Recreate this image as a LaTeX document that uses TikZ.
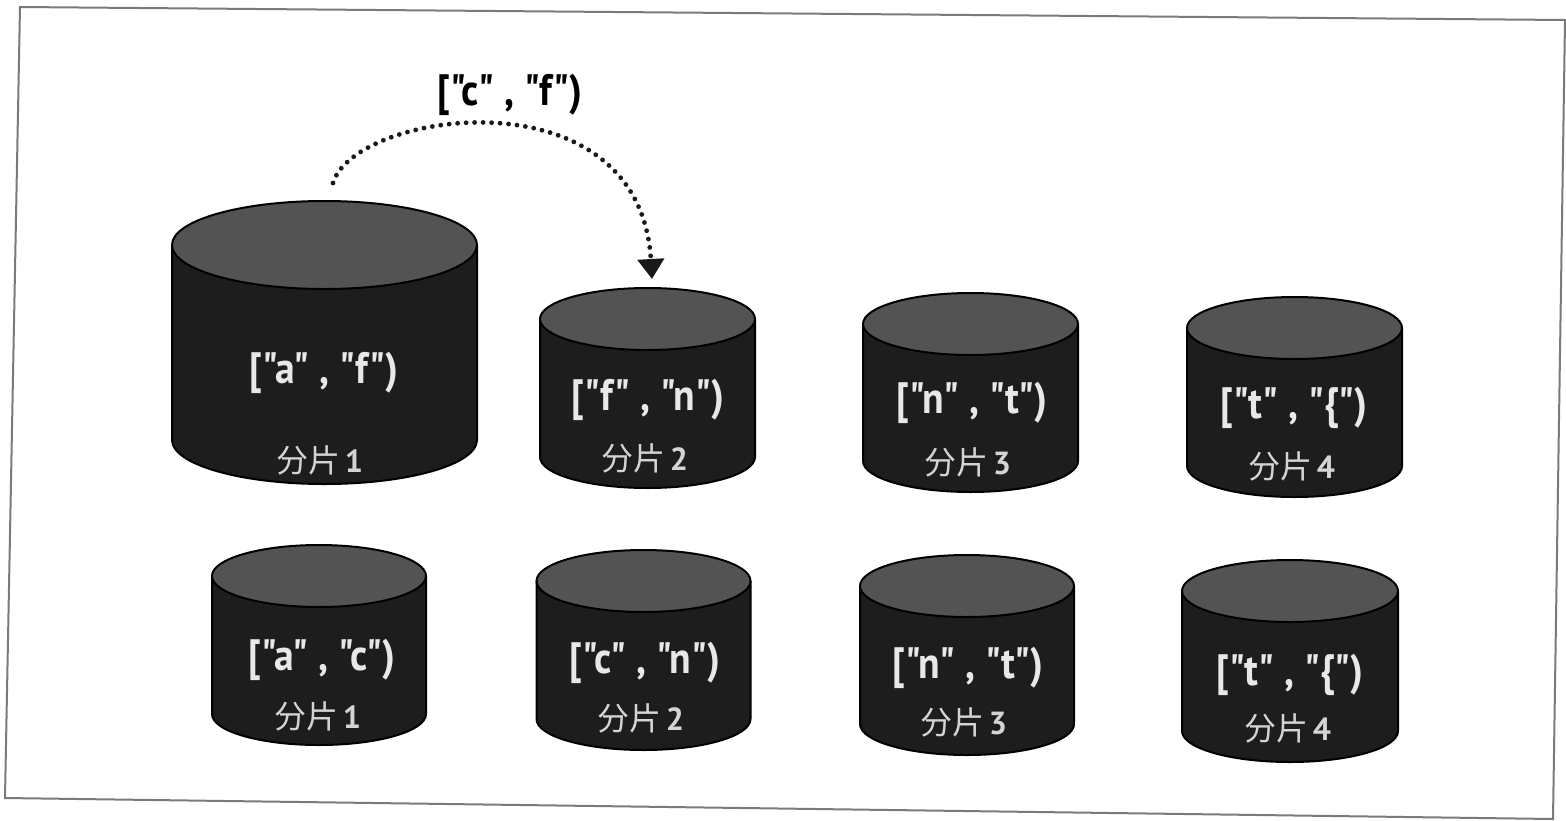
\documentclass[tikz,border=0pt]{standalone}
\usepackage{fontspec}
\usepackage{graphicx}
\setmainfont{PT Sans}[Ligatures=TeXOff]
\newfontfamily\cjk{Noto Sans CJK SC}
\usetikzlibrary{arrows.meta}
\definecolor{bodyc}{HTML}{1D1D1D}
\definecolor{topc}{HTML}{535353}
\definecolor{txtc}{HTML}{E8E8E8}
\definecolor{subc}{HTML}{D4D4D4}
\definecolor{framec}{HTML}{7A7A7A}
\newcommand\q{\symbol{34}}
\newcommand\rng[1]{\scalebox{0.9}[1]{#1}}
\newcommand\shd[1]{{\cjk 分片}\hspace{4pt}{\bfseries #1}}
\newcommand\shardcyl[5]{%
  \fill[bodyc] ({#1-#4},#2) -- ({#1-#4},#3) arc[start angle=180,end angle=0,x radius=#4,y radius=#5] -- ({#1+#4},#2) -- cycle;
  \draw[outl] ({#1-#4},#2) -- ({#1-#4},#3) arc[start angle=180,end angle=0,x radius=#4,y radius=#5] -- ({#1+#4},#2);
  \filldraw[outl,fill=topc] (#1,#2) ellipse[x radius=#4,y radius=#5];
}
\begin{document}
\begin{tikzpicture}[x=1pt,y=-1pt,
  outl/.style={draw=black,line width=2pt},
  lab/.style={text=txtc,font=\bfseries\fontsize{44}{44}\selectfont,inner sep=0pt},
  sublab/.style={text=subc,font=\fontsize{32}{32}\selectfont,inner sep=0pt},
  toplab/.style={text=black,font=\bfseries\fontsize{44}{44}\selectfont,inner sep=0pt},
  dotarrow/.style={draw=black!90,line width=4.8pt,line cap=round,dash pattern=on 0pt off 8.5pt,-{Triangle[length=20pt,width=26pt]}},
  framedraw/.style={draw=framec,line width=2pt}]
\useasboundingbox (0,0) rectangle (1566,820);
\fill[white] (0,0) rectangle (1566,820);
\draw[framedraw] (20,7) -- (1565,20) -- (1553,819) -- (5,798) -- cycle;

% row 1
\shardcyl{324.5}{245}{440}{152.5}{44}
\shardcyl{647.5}{319}{457}{107.5}{31}
\shardcyl{970.5}{324}{461}{107.5}{31}
\shardcyl{1294.5}{328}{466}{107.5}{31}
% row 2
\shardcyl{319}{576}{714}{107}{31}
\shardcyl{643.5}{581}{719}{107}{31}
\shardcyl{967}{586}{724}{107}{31}
\shardcyl{1290}{591}{731}{108}{31}

\node[lab] (r1a) at (324,373) {\rng{[\q a\q{} , \q f\q)}};
\node[sublab] (r1as) at (320,460) {\shd{1}};
\node[lab] (r1b) at (648,400) {\rng{[\q f\q{} , \q n\q)}};
\node[sublab] (r1bs) at (645,458) {\shd{2}};
\node[lab] (r1c) at (972,403) {\rng{[\q n\q{} , \q t\q)}};
\node[sublab] (r1cs) at (968,462) {\shd{3}};
\node[lab] (r1d) at (1294,408) {\rng{[\q t\q{} , \q\{\q)}};
\node[sublab] (r1ds) at (1292,466) {\shd{4}};

\node[lab] (r2a) at (322,660) {\rng{[\q a\q{} , \q c\q)}};
\node[sublab] (r2as) at (318,716) {\shd{1}};
\node[lab] (r2b) at (645,663) {\rng{[\q c\q{} , \q n\q)}};
\node[sublab] (r2bs) at (641,718) {\shd{2}};
\node[lab] (r2c) at (968,668) {\rng{[\q n\q{} , \q t\q)}};
\node[sublab] (r2cs) at (964,722) {\shd{3}};
\node[lab] (r2d) at (1290,675) {\rng{[\q t\q{} , \q\{\q)}};
\node[sublab] (r2ds) at (1288,728) {\shd{4}};

\node[toplab] (move) at (510,95) {\rng{[\q c\q{} , \q f\q)}};

\coordinate (arrS) at (333,183);
\coordinate (arrE) at (652,279);
\draw[dotarrow] (arrS) .. controls (355,110) and (640,70) .. (arrE);
\end{tikzpicture}
\end{document}
